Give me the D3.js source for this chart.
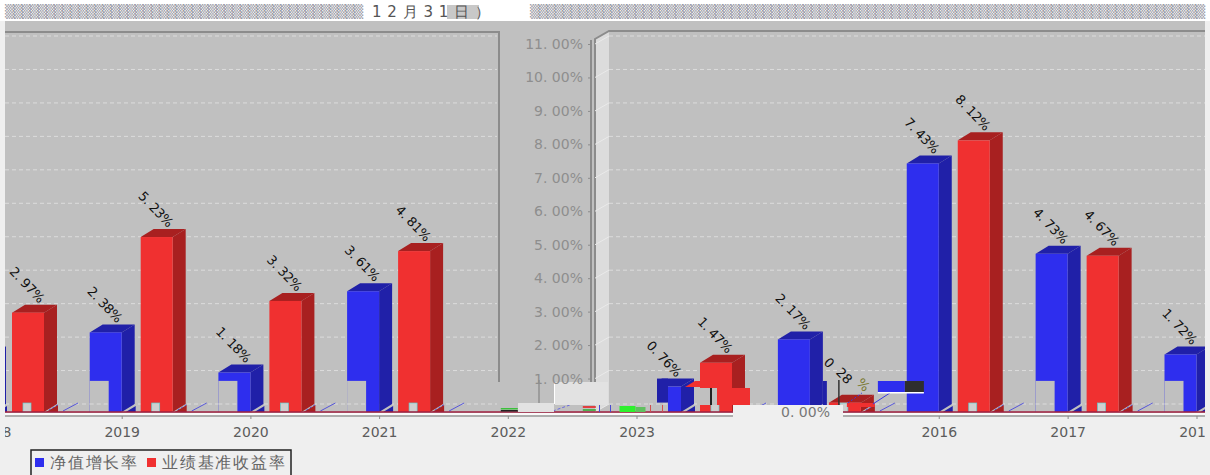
<!DOCTYPE html>
<html lang="zh">

<head>
    <meta charset="UTF-8">
    <title>净值增长率与业绩基准收益率</title>
    <style>
        html, body { margin: 0; padding: 0; background: #efefef; overflow: hidden; }
        svg { display: block; }
        text { font-family: "DejaVu Sans", sans-serif; }
    </style>
    <script src="https://d3js.org/d3.v7.min.js"></script>
</head>

<body>
    <svg id="chart" width="1210" height="475"></svg>
<script>
    // the chart is broken up in the picture: two panels with their own x positions
    const leftYears = ["2018", "2019", "2020", "2021", "2022", "2023"];
    const leftNet = [1.72, 2.38, 1.18, 3.61, null, null];
    const leftBench = [2.97, 5.23, 3.32, 4.81, null, null];
    const rightYears = ["2014", "2015", "2016", "2017", "2018"];
    const rightNet = [0.76, 2.17, 7.43, 4.73, 1.72];
    const rightBench = [1.47, 0.28, 8.12, 4.67, 2.97];
    const hiddenTicks = ["2014", "2015"];
    const notchedBars = [1.72, 2.38, 1.18, 3.61, 4.73, 0.76];
    const yTicks = [1, 2, 3, 4, 5, 6, 7, 8, 9, 10, 11];
    const gridValues = [0, 1, 2, 3, 4, 5, 6, 7, 8, 9, 10, 11];
    const legendNames = ["净值增长率", "业绩基准收益率"];
    const titleParts = ["▒", "12月31日）", "▒"];

    const BLUE = "#2e2eee", BLUE_DARK = "#2020a8";
    const RED = "#f03030", RED_DARK = "#a82020";
    const PLOT = "#c0c0c0";
    const DX = 13, DY = 8;   // 3d depth
    const BAR_W = 32, RED_OFF = 19;

    const svg = d3.select("#chart");
    const y = d3.scaleLinear().domain([0, 11]).range([412, 44]);
    const xLeft = d3.scalePoint().domain(leftYears).range([-7, 636.5]);
    const xRight = d3.scalePoint().domain(rightYears).range([681, 1196.5]);

    svg.append("clipPath").attr("id", "frame").append("rect")
        .attr("x", 5).attr("y", 0).attr("width", 1200).attr("height", 475);
    const root = svg.append("g").attr("clip-path", "url(#frame)");

    // page and walls
    svg.insert("rect", ":first-child").attr("width", 1210).attr("height", 21).attr("fill", "#fff");
    root.append("rect").attr("x", 5).attr("y", 21).attr("width", 1200).attr("height", 392).attr("fill", PLOT);
    root.append("path").attr("d", `M5 32H499V382`).attr("fill", "none").attr("stroke", "#8c8c8c").attr("stroke-width", 2);
    root.append("path").attr("d", `M595 ${y(0)}V39L609 31V${y(0) - DY}Z`).attr("fill", "#dcdcdc");
    root.append("path").attr("d", "M595 382V39L609 31H1205").attr("fill", "none").attr("stroke", "#8c8c8c").attr("stroke-width", 2);

    // gridlines on both back walls and the side wall
    const grid = root.append("g").attr("stroke", "#dcdcdc").attr("fill", "none");
    gridValues.forEach(v => {
        const gy = y(v) - DY;
        grid.append("line").attr("x1", 5).attr("x2", 497).attr("y1", gy).attr("y2", gy).attr("stroke-dasharray", "4,3");
        grid.append("line").attr("x1", 609).attr("x2", 1205).attr("y1", gy).attr("y2", gy).attr("stroke-dasharray", "4,3");
        grid.append("line").attr("x1", 595).attr("x2", 609).attr("y1", y(v)).attr("y2", gy).attr("stroke", "#eaeaea");
    });

    const fmt = v => v.toFixed(2).replace(".", ". ") + "%";

    function drawBar(g, left, value, front, dark, labelled) {
        const top = y(value), base = y(0);
        g.append("path")
            .attr("d", `M${left} ${top}l${DX} ${-DY}h${BAR_W}l${-DX} ${DY}Z`).attr("fill", dark);
        g.append("path")
            .attr("d", `M${left + BAR_W} ${top}l${DX} ${-DY}V${base - DY}l${-DX} ${DY}Z`).attr("fill", dark);
        g.append("rect").attr("x", left).attr("y", top)
            .attr("width", BAR_W).attr("height", base - top).attr("fill", front);
        if (labelled) {
            g.append("text")
                .attr("transform", `translate(${left + 27},${top - 9}) rotate(46)`)
                .attr("text-anchor", "end").attr("font-size", 13).attr("letter-spacing", -0.3).attr("fill", "#111")
                .text(fmt(value));
        }
    }

    // leftovers along the foot of a bar pair
    function footBits(g, tick) {
        const base = y(0);
        g.append("rect").attr("x", tick + 30).attr("y", base - 9).attr("width", 8).attr("height", 9)
            .attr("fill", "#cfcfcf").attr("stroke", "#5fd0d0").attr("stroke-width", 0.7);
        g.append("path").attr("d", `M${tick + 4} ${base}l10 -6v6Z`).attr("fill", BLUE_DARK);
        g.append("path").attr("d", `M${tick + 53} ${base}l12 -7v7Z`).attr("fill", RED_DARK);
        g.append("line").attr("x1", tick + 70).attr("y1", base - 1).attr("x2", tick + 85).attr("y2", base - 9)
            .attr("stroke", "#3a3ae0").attr("stroke-width", 0.8);
        g.append("line").attr("x1", tick + 56).attr("y1", base - 2).attr("x2", tick + 66).attr("y2", base - 8)
            .attr("stroke", "#3a3ae0").attr("stroke-width", 0.8).attr("stroke-dasharray", "2,2");
    }

    function drawPanel(years, net, bench, x) {
        const g = root.append("g");
        years.forEach((yr, i) => {
            const tick = x(yr);
            if (net[i] == null) return;
            drawBar(g, tick - BAR_W, net[i], BLUE, BLUE_DARK, true);
            if (notchedBars.includes(net[i])) {
                // lower left of these bars is missing in the picture
                g.append("rect").attr("x", tick - BAR_W).attr("y", y(0.93))
                    .attr("width", 19).attr("height", y(0) - y(0.93)).attr("fill", PLOT);
                g.append("line").attr("x1", tick - BAR_W).attr("x2", tick - BAR_W + 19)
                    .attr("y1", y(0) - DY).attr("y2", y(0) - DY)
                    .attr("stroke", "#dcdcdc").attr("stroke-dasharray", "4,3");
            }
            drawBar(g, tick + RED_OFF, bench[i], RED, RED_DARK, bench[i] !== 0.28);
            footBits(g, tick);
        });
    }
    drawPanel(leftYears, leftNet, leftBench, xLeft);
    drawPanel(rightYears, rightNet, rightBench, xRight);

    // glitches round the 2014 pair
    const t14 = xRight("2014"), t15 = xRight("2015");
    const glitch = root.append("g");
    glitch.append("rect").attr("x", t14 - 24).attr("y", y(0.76) - 8).attr("width", 11).attr("height", 24).attr("fill", BLUE_DARK);
    glitch.append("rect").attr("x", t14 + 19).attr("y", 388).attr("width", 17).attr("height", 17).attr("fill", PLOT);
    glitch.append("rect").attr("x", t14 + 36).attr("y", 388).attr("width", 33).attr("height", 17).attr("fill", RED);
    glitch.append("rect").attr("x", t14 + 29).attr("y", 388).attr("width", 2).attr("height", 17).attr("fill", "#222");
    glitch.append("path").attr("d", `M${t14 + 4} 387l10 -6h10v6Z`).attr("fill", RED);
    // 2015 bars
    glitch.append("rect").attr("x", t15 + 13).attr("y", 381).attr("width", 4).attr("height", 24).attr("fill", BLUE_DARK);
    glitch.append("line").attr("x1", t15 + 29).attr("x2", t15 + 29).attr("y1", 380).attr("y2", 406).attr("stroke", "#333").attr("stroke-width", 1.5);
    glitch.append("rect").attr("x", t15 + 37).attr("y", 403).attr("width", 28).attr("height", 4).attr("fill", RED);
    glitch.append("line").attr("x1", t15 + 38).attr("y1", 403).attr("x2", t15 + 52).attr("y2", 393)
        .attr("stroke", "#3a3ae0").attr("stroke-dasharray", "2,2");
    glitch.append("line").attr("x1", t15 + 63).attr("y1", 404).attr("x2", t15 + 80).attr("y2", 393).attr("stroke", "#3a3ae0");
    glitch.append("rect").attr("x", t15 + 68).attr("y", 381).attr("width", 27).attr("height", 11).attr("fill", BLUE);
    glitch.append("rect").attr("x", t15 + 95).attr("y", 381).attr("width", 19).attr("height", 11).attr("fill", "#2e2e2e");
    glitch.append("rect").attr("x", t15 + 68).attr("y", 392).attr("width", 46).attr("height", 1.5).attr("fill", "#fff");
    // the 0.28 label is torn into pieces
    [["0", 826, 366, "#111"], ["28", 841, 379, "#111"], ["%", 860, 388, "#7a7a30"]].forEach(p => {
        glitch.append("text").attr("transform", `translate(${p[1]},${p[2]}) rotate(46)`)
            .attr("text-anchor", "middle").attr("font-size", 13).attr("fill", p[3]).text(p[0]);
    });

    // foot line and base
    root.append("line").attr("x1", 5).attr("x2", 1205).attr("y1", y(0)).attr("y2", y(0))
        .attr("stroke", "#a02040").attr("stroke-width", 1.5);
    root.append("rect").attr("x", 5).attr("y", 413).attr("width", 1200).attr("height", 2).attr("fill", "#fafafa");

    // bits along the empty years
    const t22 = xLeft("2022"), t23 = xLeft("2023");
    const bits = root.append("g");
    bits.append("rect").attr("x", t23 - 17).attr("y", 406).attr("width", 16).attr("height", 6).attr("fill", "#2ef02e");
    bits.append("rect").attr("x", t23 - 1).attr("y", 407).attr("width", 10).attr("height", 5).attr("fill", "#60c060");
    [t23 - 37, t23 - 26].forEach(v => bits.append("line").attr("x1", v).attr("x2", v).attr("y1", 405).attr("y2", 412).attr("stroke", "#4a4ad0"));
    [t23 + 14, t23 + 26].forEach(v => bits.append("line").attr("x1", v).attr("x2", v).attr("y1", 405).attr("y2", 412).attr("stroke", "#d05050"));
    bits.append("rect").attr("x", t22 - 7).attr("y", 408).attr("width", 17).attr("height", 1.5).attr("fill", "#3cc03c");
    bits.append("rect").attr("x", t22 - 7).attr("y", 410).attr("width", 17).attr("height", 1.5).attr("fill", "#222");
    bits.append("rect").attr("x", t22 + 75).attr("y", 406).attr("width", 13).attr("height", 2).attr("fill", "#e04040");
    bits.append("rect").attr("x", t22 + 75).attr("y", 409).attr("width", 13).attr("height", 2).attr("fill", "#50b050");
    bits.append("line").attr("x1", t22 + 45).attr("y1", 411).attr("x2", t22 + 62).attr("y2", 405)
        .attr("stroke", "#6a6ae0").attr("stroke-dasharray", "3,2");

    // pale patches over the middle of the picture
    const PATCH = "#e2e2e2";
    root.append("rect").attr("x", 518).attr("y", 403).attr("width", 36).attr("height", 9).attr("fill", PATCH);
    root.append("rect").attr("x", 555).attr("y", 382).attr("width", 53).attr("height", 23).attr("fill", PATCH);
    root.append("line").attr("x1", 554.5).attr("x2", 554.5).attr("y1", 382).attr("y2", 404).attr("stroke", "#fff");
    root.append("line").attr("x1", 539).attr("x2", 539).attr("y1", 380).attr("y2", 403).attr("stroke", "#9c9c9c").attr("stroke-width", 2);

    // y axis
    const yAxis = svg.append("g").attr("transform", "translate(591,0)")
        .call(d3.axisLeft(y).tickValues(yTicks).tickSize(3).tickPadding(5).tickFormat(fmt));
    yAxis.select(".domain").attr("d", `M0 ${y(11) - 4}V382`).attr("stroke", "#8c8c8c").attr("stroke-width", 2);
    yAxis.selectAll(".tick line").attr("stroke", "#8c8c8c");
    yAxis.selectAll("text").attr("font-family", "DejaVu Sans").attr("font-size", 14).attr("fill", "#8e8e8e");

    // x axes
    function xAxis(scale, years) {
        const g = root.append("g").attr("transform", "translate(0,416)")
            .call(d3.axisBottom(scale).tickValues(years).tickSize(3).tickPadding(8));
        g.select(".domain").remove();
        g.selectAll(".tick line").attr("stroke", "#8a8a8a");
        g.selectAll("text").attr("font-family", "DejaVu Sans").attr("font-size", 14).attr("fill", "#5c5c5c");
    }
    root.append("rect").attr("x", 733).attr("y", 405).attr("width", 110).attr("height", 12).attr("fill", "#efefef");
    root.append("line").attr("x1", 5).attr("x2", 733).attr("y1", 416).attr("y2", 416).attr("stroke", "#999").attr("stroke-width", 1.5);
    root.append("line").attr("x1", 843).attr("x2", 1205).attr("y1", 416).attr("y2", 416).attr("stroke", "#999").attr("stroke-width", 1.5);
    xAxis(xLeft, leftYears);
    xAxis(xRight, rightYears.filter(d => !hiddenTicks.includes(d)));
    root.append("text").attr("x", 830).attr("y", 417).attr("text-anchor", "end")
        .attr("font-size", 14).attr("fill", "#777").text(fmt(0));

    // title strip, only the date in it can still be read
    const title = svg.append("g").attr("font-size", 13);
    title.append("rect").attr("x", 447).attr("y", 5).attr("width", 32).attr("height", 14).attr("fill", "#c8c8c8");
    title.append("text").attr("x", 5).attr("y", 16).attr("textLength", 358).attr("lengthAdjust", "spacing")
        .attr("fill", "#9a9aa6").text(titleParts[0].repeat(44));
    title.append("text").attr("x", 372).attr("y", 17).attr("font-family", "Noto Sans CJK SC").attr("font-size", 15)
        .attr("textLength", 118).attr("lengthAdjust", "spacing").attr("fill", "#555").text(titleParts[1]);
    title.append("text").attr("x", 530).attr("y", 16).attr("textLength", 675).attr("lengthAdjust", "spacing")
        .attr("fill", "#9a9aa6").text(titleParts[2].repeat(84));

    // legend, cut by the bottom of the window
    const legend = svg.append("g");
    legend.append("rect").attr("x", 31).attr("y", 450).attr("width", 260).attr("height", 30)
        .attr("fill", "#efefef").attr("stroke", "#222").attr("stroke-width", 1.5);
    const legendX = [35, 147];
    legendNames.forEach((name, i) => {
        legend.append("rect").attr("x", legendX[i]).attr("y", 458).attr("width", 9).attr("height", 9)
            .attr("fill", i ? RED : BLUE);
        legend.append("text").attr("x", legendX[i] + 15).attr("y", 468)
            .attr("font-family", "Noto Sans CJK SC").attr("font-size", 16).attr("letter-spacing", 1.8)
            .attr("fill", "#666").text(name);
    });
</script>
</body>

</html>
